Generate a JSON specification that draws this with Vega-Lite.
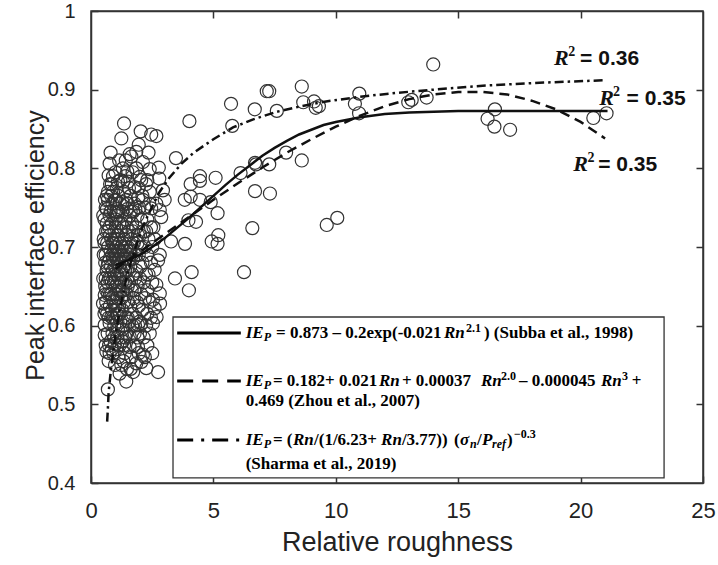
{
  "$schema": "https://vega.github.io/schema/vega-lite/v6.json",
  "width": 612,
  "height": 472,
  "autosize": {"type": "none"},
  "padding": {"left": 91, "top": 11, "right": 15, "bottom": 82},
  "background": "white",
  "config": {
    "view": {"stroke": "#333333", "strokeWidth": 1.5},
    "axis": {
      "grid": false,
      "domainColor": "#333333",
      "domainWidth": 1.5,
      "tickColor": "#333333",
      "tickWidth": 1.5,
      "tickSize": -7,
      "labelFont": "Liberation Sans",
      "labelColor": "#222222",
      "titleFont": "Liberation Sans",
      "titleFontWeight": "normal",
      "titleColor": "#222222"
    }
  },
  "datasets": {
    "points": [
      {"rn":4.02,"ie":0.860},{"rn":5.72,"ie":0.882},{"rn":7.18,"ie":0.898},{"rn":7.28,"ie":0.898},{"rn":8.61,"ie":0.904},{"rn":6.69,"ie":0.875},{"rn":7.59,"ie":0.873},{"rn":5.77,"ie":0.854},{"rn":8.67,"ie":0.884},{"rn":9.11,"ie":0.885},{"rn":9.18,"ie":0.877},{"rn":9.31,"ie":0.879},{"rn":10.96,"ie":0.895},{"rn":10.78,"ie":0.882},{"rn":10.95,"ie":0.870},{"rn":12.96,"ie":0.884},{"rn":13.10,"ie":0.887},{"rn":13.71,"ie":0.890},{"rn":13.98,"ie":0.932},{"rn":16.50,"ie":0.875},{"rn":16.20,"ie":0.863},{"rn":16.48,"ie":0.853},{"rn":17.12,"ie":0.849},{"rn":20.52,"ie":0.864},{"rn":21.06,"ie":0.870},
      {"rn":3.47,"ie":0.813},{"rn":4.45,"ie":0.790},{"rn":4.45,"ie":0.784},{"rn":4.07,"ie":0.780},{"rn":5.09,"ie":0.788},{"rn":6.11,"ie":0.794},{"rn":6.70,"ie":0.807},{"rn":6.74,"ie":0.805},{"rn":7.28,"ie":0.805},{"rn":7.97,"ie":0.820},{"rn":8.61,"ie":0.810},
      {"rn":3.83,"ie":0.760},{"rn":4.07,"ie":0.764},{"rn":4.45,"ie":0.760},{"rn":4.89,"ie":0.757},{"rn":6.70,"ie":0.771},{"rn":7.31,"ie":0.768},{"rn":5.17,"ie":0.743},{"rn":3.98,"ie":0.734},{"rn":4.29,"ie":0.732},{"rn":3.27,"ie":0.707},{"rn":3.84,"ie":0.704},{"rn":5.20,"ie":0.715},{"rn":4.93,"ie":0.707},{"rn":5.17,"ie":0.704},{"rn":6.59,"ie":0.724},{"rn":9.63,"ie":0.728},{"rn":10.06,"ie":0.737},{"rn":3.43,"ie":0.660},{"rn":4.11,"ie":0.668},{"rn":6.25,"ie":0.668},{"rn":4.00,"ie":0.645},
      {"rn":1.35,"ie":0.857},{"rn":1.24,"ie":0.838},{"rn":2.03,"ie":0.847},{"rn":2.46,"ie":0.843},{"rn":2.67,"ie":0.841},{"rn":0.80,"ie":0.820},{"rn":0.76,"ie":0.806},{"rn":1.58,"ie":0.818},{"rn":1.65,"ie":0.815},{"rn":1.85,"ie":0.821},{"rn":2.12,"ie":0.808},{"rn":2.40,"ie":0.799},{"rn":2.77,"ie":0.801},{"rn":1.48,"ie":0.796},{"rn":1.99,"ie":0.789},{"rn":0.72,"ie":0.791},{"rn":1.10,"ie":0.783},{"rn":1.31,"ie":0.783},{"rn":1.51,"ie":0.783},{"rn":1.78,"ie":0.776},{"rn":2.05,"ie":0.785},{"rn":0.69,"ie":0.770},{"rn":0.90,"ie":0.770},{"rn":2.94,"ie":0.772},{"rn":0.69,"ie":0.760},{"rn":1.02,"ie":0.760},{"rn":1.29,"ie":0.757},{"rn":1.92,"ie":0.762},{"rn":2.12,"ie":0.760},{"rn":2.67,"ie":0.755},{"rn":3.01,"ie":0.760},{"rn":2.46,"ie":0.749},{"rn":2.81,"ie":0.747},{"rn":0.65,"ie":0.748},{"rn":1.06,"ie":0.748},{"rn":1.48,"ie":0.748},{"rn":1.81,"ie":0.748},{"rn":2.79,"ie":0.787},
      {"rn":2.87,"ie":0.738},{"rn":2.81,"ie":0.690},{"rn":2.74,"ie":0.683},{"rn":2.60,"ie":0.671},{"rn":2.67,"ie":0.652},{"rn":2.81,"ie":0.641},{"rn":2.53,"ie":0.633},{"rn":2.60,"ie":0.622},{"rn":0.56,"ie":0.639},{"rn":0.49,"ie":0.628},{"rn":2.82,"ie":0.628},{"rn":2.68,"ie":0.611},
      {"rn":0.56,"ie":0.601},{"rn":0.76,"ie":0.603},{"rn":0.56,"ie":0.588},{"rn":0.63,"ie":0.567},{"rn":0.76,"ie":0.565},{"rn":1.92,"ie":0.601},{"rn":2.06,"ie":0.603},{"rn":2.53,"ie":0.603},{"rn":1.78,"ie":0.590},{"rn":1.58,"ie":0.586},{"rn":1.58,"ie":0.573},{"rn":1.92,"ie":0.573},{"rn":2.12,"ie":0.563},{"rn":1.65,"ie":0.560},{"rn":2.06,"ie":0.554},{"rn":2.26,"ie":0.546},{"rn":1.85,"ie":0.552},{"rn":1.72,"ie":0.541},{"rn":2.74,"ie":0.541},{"rn":1.17,"ie":0.539},{"rn":1.44,"ie":0.529},{"rn":0.69,"ie":0.519},{"rn":0.97,"ie":0.577},{"rn":1.17,"ie":0.575},{"rn":0.83,"ie":0.611},{"rn":1.10,"ie":0.613},
      {"rn":0.52,"ie":0.69},{"rn":0.55,"ie":0.705},{"rn":0.58,"ie":0.68},{"rn":0.6,"ie":0.66},{"rn":0.62,"ie":0.72},{"rn":0.55,"ie":0.735},{"rn":0.6,"ie":0.75},{"rn":0.65,"ie":0.765},{"rn":0.58,"ie":0.65},{"rn":0.62,"ie":0.645},{"rn":0.66,"ie":0.615},{"rn":0.6,"ie":0.575},{"rn":0.68,"ie":0.59},{"rn":0.7,"ie":0.70},{"rn":0.67,"ie":0.675},{"rn":0.64,"ie":0.73},{"rn":0.7,"ie":0.64},{"rn":0.72,"ie":0.555},
      {"rn":0.78,"ie":0.78},{"rn":0.82,"ie":0.765},{"rn":0.8,"ie":0.745},{"rn":0.85,"ie":0.73},{"rn":0.78,"ie":0.715},{"rn":0.88,"ie":0.705},{"rn":0.8,"ie":0.695},{"rn":0.9,"ie":0.685},{"rn":0.82,"ie":0.675},{"rn":0.95,"ie":0.665},{"rn":0.85,"ie":0.655},{"rn":0.78,"ie":0.64},{"rn":0.92,"ie":0.63},{"rn":0.86,"ie":0.62},{"rn":0.95,"ie":0.6},{"rn":0.88,"ie":0.59},{"rn":0.92,"ie":0.565},{"rn":0.98,"ie":0.55},{"rn":0.96,"ie":0.72},{"rn":0.93,"ie":0.745},{"rn":0.98,"ie":0.76},{"rn":0.9,"ie":0.79},{"rn":0.95,"ie":0.695},{"rn":0.99,"ie":0.675},{"rn":0.87,"ie":0.635},
      {"rn":1.05,"ie":0.775},{"rn":1.12,"ie":0.765},{"rn":1.08,"ie":0.74},{"rn":1.15,"ie":0.73},{"rn":1.02,"ie":0.725},{"rn":1.1,"ie":0.715},{"rn":1.18,"ie":0.705},{"rn":1.05,"ie":0.70},{"rn":1.12,"ie":0.695},{"rn":1.2,"ie":0.69},{"rn":1.03,"ie":0.685},{"rn":1.1,"ie":0.68},{"rn":1.17,"ie":0.675},{"rn":1.22,"ie":0.67},{"rn":1.06,"ie":0.665},{"rn":1.14,"ie":0.66},{"rn":1.02,"ie":0.65},{"rn":1.2,"ie":0.645},{"rn":1.08,"ie":0.635},{"rn":1.15,"ie":0.625},{"rn":1.05,"ie":0.615},{"rn":1.2,"ie":0.605},{"rn":1.1,"ie":0.595},{"rn":1.22,"ie":0.585},{"rn":1.12,"ie":0.56},{"rn":1.24,"ie":0.55},{"rn":1.18,"ie":0.755},{"rn":1.22,"ie":0.72},{"rn":1.04,"ie":0.745},
      {"rn":1.3,"ie":0.8},{"rn":1.35,"ie":0.77},{"rn":1.28,"ie":0.745},{"rn":1.4,"ie":0.735},{"rn":1.32,"ie":0.725},{"rn":1.45,"ie":0.715},{"rn":1.3,"ie":0.705},{"rn":1.38,"ie":0.695},{"rn":1.27,"ie":0.69},{"rn":1.42,"ie":0.685},{"rn":1.33,"ie":0.675},{"rn":1.48,"ie":0.67},{"rn":1.28,"ie":0.665},{"rn":1.4,"ie":0.655},{"rn":1.3,"ie":0.645},{"rn":1.45,"ie":0.64},{"rn":1.35,"ie":0.63},{"rn":1.28,"ie":0.62},{"rn":1.42,"ie":0.61},{"rn":1.33,"ie":0.6},{"rn":1.45,"ie":0.59},{"rn":1.3,"ie":0.58},{"rn":1.38,"ie":0.565},{"rn":1.32,"ie":0.555},{"rn":1.47,"ie":0.545},{"rn":1.44,"ie":0.76},{"rn":1.5,"ie":0.70},{"rn":1.46,"ie":0.725},
      {"rn":1.55,"ie":0.775},{"rn":1.62,"ie":0.765},{"rn":1.58,"ie":0.74},{"rn":1.68,"ie":0.73},{"rn":1.55,"ie":0.72},{"rn":1.65,"ie":0.71},{"rn":1.58,"ie":0.695},{"rn":1.72,"ie":0.685},{"rn":1.6,"ie":0.675},{"rn":1.7,"ie":0.665},{"rn":1.55,"ie":0.655},{"rn":1.66,"ie":0.645},{"rn":1.75,"ie":0.635},{"rn":1.6,"ie":0.625},{"rn":1.7,"ie":0.615},{"rn":1.55,"ie":0.605},{"rn":1.68,"ie":0.6},{"rn":1.75,"ie":0.575},{"rn":1.62,"ie":0.545},{"rn":1.78,"ie":0.755},{"rn":1.75,"ie":0.705},
      {"rn":1.85,"ie":0.8},{"rn":1.95,"ie":0.775},{"rn":1.9,"ie":0.74},{"rn":2.05,"ie":0.735},{"rn":1.85,"ie":0.725},{"rn":2.0,"ie":0.715},{"rn":2.15,"ie":0.72},{"rn":1.9,"ie":0.705},{"rn":2.05,"ie":0.70},{"rn":1.95,"ie":0.69},{"rn":2.1,"ie":0.68},{"rn":1.85,"ie":0.67},{"rn":2.0,"ie":0.66},{"rn":2.15,"ie":0.655},{"rn":1.9,"ie":0.65},{"rn":2.05,"ie":0.64},{"rn":2.2,"ie":0.635},{"rn":1.95,"ie":0.625},{"rn":2.1,"ie":0.62},{"rn":1.85,"ie":0.61},{"rn":2.0,"ie":0.59},{"rn":2.15,"ie":0.585},{"rn":2.2,"ie":0.75},{"rn":2.1,"ie":0.765},
      {"rn":2.3,"ie":0.785},{"rn":2.4,"ie":0.77},{"rn":2.3,"ie":0.735},{"rn":2.45,"ie":0.725},{"rn":2.35,"ie":0.71},{"rn":2.5,"ie":0.70},{"rn":2.3,"ie":0.69},{"rn":2.45,"ie":0.68},{"rn":2.35,"ie":0.665},{"rn":2.5,"ie":0.655},{"rn":2.3,"ie":0.645},{"rn":2.4,"ie":0.63},{"rn":2.3,"ie":0.615},{"rn":2.45,"ie":0.61},{"rn":2.4,"ie":0.59},{"rn":2.3,"ie":0.575},{"rn":2.5,"ie":0.565},{"rn":2.55,"ie":0.725},{"rn":2.6,"ie":0.71},{"rn":2.25,"ie":0.6},
      {"rn":0.75,"ie":0.725},{"rn":0.83,"ie":0.71},{"rn":0.87,"ie":0.69},{"rn":0.92,"ie":0.705},{"rn":0.97,"ie":0.71},{"rn":1.0,"ie":0.69},{"rn":1.07,"ie":0.71},{"rn":1.13,"ie":0.685},{"rn":1.16,"ie":0.695},{"rn":1.25,"ie":0.70},{"rn":1.23,"ie":0.68},{"rn":1.19,"ie":0.665},{"rn":1.26,"ie":0.655},{"rn":1.12,"ie":0.645},{"rn":1.0,"ie":0.64},{"rn":0.94,"ie":0.655},{"rn":0.89,"ie":0.67},{"rn":0.76,"ie":0.685},{"rn":0.73,"ie":0.66},{"rn":0.7,"ie":0.68},{"rn":0.8,"ie":0.66},{"rn":0.84,"ie":0.64},{"rn":0.77,"ie":0.625},{"rn":0.9,"ie":0.61},{"rn":1.0,"ie":0.625},{"rn":1.08,"ie":0.605},{"rn":1.16,"ie":0.615},{"rn":1.25,"ie":0.635},{"rn":1.36,"ie":0.64},{"rn":1.4,"ie":0.67},{"rn":1.35,"ie":0.69},{"rn":1.43,"ie":0.70},{"rn":1.36,"ie":0.71},{"rn":1.25,"ie":0.73},{"rn":1.13,"ie":0.745},{"rn":1.0,"ie":0.735},{"rn":0.88,"ie":0.755},{"rn":0.76,"ie":0.74},{"rn":0.7,"ie":0.72},{"rn":0.66,"ie":0.705},{"rn":0.6,"ie":0.69},{"rn":0.64,"ie":0.67},{"rn":0.68,"ie":0.655},{"rn":0.62,"ie":0.63},{"rn":0.72,"ie":0.61},{"rn":0.8,"ie":0.58},{"rn":0.74,"ie":0.575},{"rn":0.85,"ie":0.57},{"rn":0.95,"ie":0.585},{"rn":1.03,"ie":0.57},{"rn":1.08,"ie":0.585},{"rn":1.27,"ie":0.595},{"rn":1.35,"ie":0.575},{"rn":1.4,"ie":0.585},{"rn":1.5,"ie":0.61},{"rn":1.52,"ie":0.63},{"rn":1.5,"ie":0.65},{"rn":1.62,"ie":0.69},{"rn":1.55,"ie":0.685},{"rn":1.65,"ie":0.70},{"rn":1.7,"ie":0.72},{"rn":1.62,"ie":0.745},{"rn":1.5,"ie":0.755},{"rn":1.72,"ie":0.745},{"rn":1.85,"ie":0.69},{"rn":1.8,"ie":0.66},{"rn":1.78,"ie":0.645},{"rn":1.88,"ie":0.63},{"rn":1.8,"ie":0.6},{"rn":1.9,"ie":0.585},{"rn":1.98,"ie":0.605},{"rn":2.02,"ie":0.675},{"rn":1.92,"ie":0.715},{"rn":1.98,"ie":0.75},{"rn":2.25,"ie":0.665},{"rn":2.2,"ie":0.7},{"rn":2.25,"ie":0.72},{"rn":2.38,"ie":0.755},{"rn":2.2,"ie":0.56},{"rn":1.95,"ie":0.565},{"rn":1.2,"ie":0.785},{"rn":1.4,"ie":0.79},{"rn":1.0,"ie":0.795},{"rn":0.85,"ie":0.78},{"rn":1.15,"ie":0.81},{"rn":1.42,"ie":0.81},{"rn":1.7,"ie":0.795},{"rn":2.25,"ie":0.78},{"rn":2.35,"ie":0.82},{"rn":1.95,"ie":0.83},{"rn":0.6,"ie":0.62},{"rn":0.5,"ie":0.66},{"rn":0.52,"ie":0.71},{"rn":0.5,"ie":0.74},{"rn":0.57,"ie":0.76},{"rn":0.55,"ie":0.615}
    ],
    "curves": [
      {"model":"Subba","rn":1.0,"ie":0.677},{"model":"Subba","rn":1.5,"ie":0.683},{"model":"Subba","rn":2,"ie":0.690},{"model":"Subba","rn":2.5,"ie":0.700},{"model":"Subba","rn":3,"ie":0.711},{"model":"Subba","rn":3.5,"ie":0.724},{"model":"Subba","rn":4,"ie":0.737},{"model":"Subba","rn":4.5,"ie":0.751},{"model":"Subba","rn":5,"ie":0.765},{"model":"Subba","rn":5.5,"ie":0.779},{"model":"Subba","rn":6,"ie":0.792},{"model":"Subba","rn":6.5,"ie":0.804},{"model":"Subba","rn":7,"ie":0.816},{"model":"Subba","rn":7.5,"ie":0.826},{"model":"Subba","rn":8,"ie":0.835},{"model":"Subba","rn":8.5,"ie":0.843},{"model":"Subba","rn":9,"ie":0.849},{"model":"Subba","rn":9.5,"ie":0.855},{"model":"Subba","rn":10,"ie":0.859},{"model":"Subba","rn":11,"ie":0.865},{"model":"Subba","rn":12,"ie":0.869},{"model":"Subba","rn":13,"ie":0.871},{"model":"Subba","rn":14,"ie":0.872},{"model":"Subba","rn":15,"ie":0.873},{"model":"Subba","rn":17,"ie":0.873},{"model":"Subba","rn":19,"ie":0.873},{"model":"Subba","rn":21.1,"ie":0.873},
      {"model":"Zhou","rn":1,"ie":0.672},{"model":"Zhou","rn":2,"ie":0.694},{"model":"Zhou","rn":3,"ie":0.716},{"model":"Zhou","rn":4,"ie":0.738},{"model":"Zhou","rn":5,"ie":0.760},{"model":"Zhou","rn":6,"ie":0.781},{"model":"Zhou","rn":7,"ie":0.801},{"model":"Zhou","rn":8,"ie":0.820},{"model":"Zhou","rn":9,"ie":0.837},{"model":"Zhou","rn":10,"ie":0.853},{"model":"Zhou","rn":11,"ie":0.867},{"model":"Zhou","rn":12,"ie":0.879},{"model":"Zhou","rn":13,"ie":0.888},{"model":"Zhou","rn":14,"ie":0.894},{"model":"Zhou","rn":15,"ie":0.897},{"model":"Zhou","rn":16,"ie":0.897},{"model":"Zhou","rn":17,"ie":0.894},{"model":"Zhou","rn":18,"ie":0.886},{"model":"Zhou","rn":19,"ie":0.875},{"model":"Zhou","rn":20,"ie":0.859},{"model":"Zhou","rn":21,"ie":0.838},
      {"model":"Sharma","rn":0.66,"ie":0.478},{"model":"Sharma","rn":0.69,"ie":0.495},{"model":"Sharma","rn":0.72,"ie":0.515},{"model":"Sharma","rn":0.8,"ie":0.54},{"model":"Sharma","rn":0.9,"ie":0.565},{"model":"Sharma","rn":1.0,"ie":0.588},{"model":"Sharma","rn":1.2,"ie":0.625},{"model":"Sharma","rn":1.5,"ie":0.668},{"model":"Sharma","rn":1.8,"ie":0.697},{"model":"Sharma","rn":2.1,"ie":0.725},{"model":"Sharma","rn":2.4,"ie":0.745},{"model":"Sharma","rn":2.8,"ie":0.77},{"model":"Sharma","rn":3.2,"ie":0.788},{"model":"Sharma","rn":3.7,"ie":0.806},{"model":"Sharma","rn":4.2,"ie":0.82},{"model":"Sharma","rn":5,"ie":0.837},{"model":"Sharma","rn":5.8,"ie":0.852},{"model":"Sharma","rn":6.6,"ie":0.862},{"model":"Sharma","rn":7.6,"ie":0.872},{"model":"Sharma","rn":8.6,"ie":0.879},{"model":"Sharma","rn":9.6,"ie":0.885},{"model":"Sharma","rn":11,"ie":0.891},{"model":"Sharma","rn":12.5,"ie":0.896},{"model":"Sharma","rn":14,"ie":0.9},{"model":"Sharma","rn":16,"ie":0.905},{"model":"Sharma","rn":18.5,"ie":0.909},{"model":"Sharma","rn":21,"ie":0.912}
    ],
    "legendItalic": [
      {"rn":6.32,"ie":0.5906,"t":"IE"},{"rn":14.42,"ie":0.5906,"t":"Rn"},
      {"rn":6.32,"ie":0.5296,"t":"IE"},{"rn":11.76,"ie":0.5296,"t":"Rn"},{"rn":15.93,"ie":0.5296,"t":"Rn"},{"rn":20.83,"ie":0.5296,"t":"Rn"},
      {"rn":6.32,"ie":0.4546,"t":"IE"},{"rn":8.25,"ie":0.4546,"t":"Rn"},{"rn":11.85,"ie":0.4546,"t":"Rn"},{"rn":15.07,"ie":0.4546,"t":"σ"},{"rn":15.97,"ie":0.4546,"t":"P"}
    ],
    "legendBold": [
      {"rn":7.56,"ie":0.5906,"t":"= 0.873 – 0.2exp(-0.021"},{"rn":16.05,"ie":0.5906,"t":") (Subba et al., 1998)"},
      {"rn":7.43,"ie":0.5296,"t":"= 0.182+ 0.021"},{"rn":12.70,"ie":0.5296,"t":"+ 0.00037"},{"rn":17.48,"ie":0.5296,"t":"– 0.000045"},{"rn":22.09,"ie":0.5296,"t":"+"},
      {"rn":6.32,"ie":0.5042,"t":"0.469 (Zhou et al., 2007)"},
      {"rn":7.43,"ie":0.4546,"t":"= ("},{"rn":9.11,"ie":0.4546,"t":"/(1/6.23+"},{"rn":12.70,"ie":0.4546,"t":"/3.77))"},{"rn":14.83,"ie":0.4546,"t":"("},{"rn":15.77,"ie":0.4546,"t":"/"},{"rn":16.99,"ie":0.4546,"t":")"},
      {"rn":6.32,"ie":0.4241,"t":"(Sharma et al., 2019)"}
    ],
    "legendSub": [
      {"rn":7.06,"ie":0.5855,"t":"P"},{"rn":7.06,"ie":0.5245,"t":"P"},{"rn":7.06,"ie":0.4496,"t":"P"},{"rn":15.48,"ie":0.4496,"t":"n"},{"rn":16.38,"ie":0.4496,"t":"ref"}
    ],
    "legendSup": [
      {"rn":15.32,"ie":0.5970,"t":"2.1"},{"rn":16.75,"ie":0.5360,"t":"2.0"},{"rn":21.69,"ie":0.5360,"t":"3"},{"rn":17.28,"ie":0.4623,"t":"−0.3"}
    ],
    "r2R": [
      {"rn":18.91,"ie":0.9311,"t":"R"},{"rn":20.76,"ie":0.8803,"t":"R"},{"rn":19.70,"ie":0.7968,"t":"R"}
    ],
    "r2Sup": [
      {"rn":19.50,"ie":0.9426,"t":"2"},{"rn":21.32,"ie":0.8917,"t":"2"},{"rn":20.28,"ie":0.8083,"t":"2"}
    ],
    "r2Val": [
      {"rn":19.98,"ie":0.9311,"t":"= 0.36"},{"rn":21.88,"ie":0.8803,"t":"= 0.35"},{"rn":20.72,"ie":0.7968,"t":"= 0.35"}
    ]
  },
  "layer": [
    {
      "data": {"name": "points"},
      "mark": {"type": "point", "shape": "circle", "filled": false, "size": 170, "stroke": "#333333", "strokeWidth": 1.2, "opacity": 1},
      "encoding": {
        "x": {"field": "rn", "type": "quantitative", "scale": {"domain": [0, 25], "nice": false, "zero": false},
          "axis": {"orient": "bottom", "values": [0, 5, 10, 15, 20, 25], "labelFontSize": 22, "labelPadding": 24, "labelFlush": false,
            "title": "Relative roughness", "titleFontSize": 27, "titleY": 67, "titleBaseline": "alphabetic"}},
        "y": {"field": "ie", "type": "quantitative", "scale": {"domain": [0.4, 1], "nice": false, "zero": false},
          "axis": {"orient": "left", "values": [0.4, 0.5, 0.6, 0.7, 0.8, 0.9, 1], "format": "~g", "labelFontSize": 20, "labelPadding": 23,
            "title": "Peak interface efficiency", "titleFontSize": 25, "titleX": -48, "titleY": 234, "titleAngle": -90, "titleBaseline": "alphabetic", "titleAlign": "center"}}
      }
    },
    {
      "data": {"name": "curves"},
      "transform": [{"filter": "datum.model === 'Subba'"}],
      "mark": {"type": "line", "color": "#111111", "strokeWidth": 2.5},
      "encoding": {
        "x": {"field": "rn", "type": "quantitative", "axis": {"orient": "top", "values": [5, 10, 15, 20], "labels": false, "title": null}},
        "y": {"field": "ie", "type": "quantitative", "axis": {"orient": "right", "values": [0.5, 0.6, 0.7, 0.8, 0.9], "labels": false, "title": null}}
      }
    },
    {
      "data": {"name": "curves"},
      "transform": [{"filter": "datum.model === 'Zhou'"}],
      "mark": {"type": "line", "color": "#111111", "strokeWidth": 2.5, "strokeDash": [10, 6]},
      "encoding": {
        "x": {"field": "rn", "type": "quantitative", "axis": null},
        "y": {"field": "ie", "type": "quantitative", "axis": null}
      }
    },
    {
      "data": {"name": "curves"},
      "transform": [{"filter": "datum.model === 'Sharma'"}],
      "mark": {"type": "line", "color": "#111111", "strokeWidth": 2.5, "strokeDash": [9, 4, 2.5, 4]},
      "encoding": {
        "x": {"field": "rn", "type": "quantitative", "axis": null},
        "y": {"field": "ie", "type": "quantitative", "axis": null}
      }
    },
    {
      "data": {"values": [{"x1": 3.35, "x2": 23.41, "y1": 0.611, "y2": 0.4064}]},
      "mark": {"type": "rect", "fill": "white", "stroke": "#333333", "strokeWidth": 1.3},
      "encoding": {
        "x": {"field": "x1", "type": "quantitative", "axis": null},
        "x2": {"field": "x2"},
        "y": {"field": "y1", "type": "quantitative", "axis": null},
        "y2": {"field": "y2"}
      }
    },
    {
      "data": {"values": [{"rn": 3.52, "ie": 0.5906}, {"rn": 6.12, "ie": 0.5906}]},
      "mark": {"type": "line", "color": "#000000", "strokeWidth": 3},
      "encoding": {"x": {"field": "rn", "type": "quantitative", "axis": null}, "y": {"field": "ie", "type": "quantitative", "axis": null}}
    },
    {
      "data": {"values": [{"rn": 3.52, "ie": 0.5296}, {"rn": 6.12, "ie": 0.5296}]},
      "mark": {"type": "line", "color": "#000000", "strokeWidth": 3, "strokeDash": [16, 9]},
      "encoding": {"x": {"field": "rn", "type": "quantitative", "axis": null}, "y": {"field": "ie", "type": "quantitative", "axis": null}}
    },
    {
      "data": {"values": [{"rn": 3.52, "ie": 0.4546}, {"rn": 6.12, "ie": 0.4546}]},
      "mark": {"type": "line", "color": "#000000", "strokeWidth": 3, "strokeDash": [16, 8, 3, 8]},
      "encoding": {"x": {"field": "rn", "type": "quantitative", "axis": null}, "y": {"field": "ie", "type": "quantitative", "axis": null}}
    },
    {
      "data": {"name": "legendItalic"},
      "mark": {"type": "text", "align": "left", "baseline": "middle", "font": "Liberation Serif", "fontSize": 17, "fontWeight": "bold", "fontStyle": "italic", "color": "#000000"},
      "encoding": {"x": {"field": "rn", "type": "quantitative", "axis": null}, "y": {"field": "ie", "type": "quantitative", "axis": null}, "text": {"field": "t"}}
    },
    {
      "data": {"name": "legendBold"},
      "mark": {"type": "text", "align": "left", "baseline": "middle", "font": "Liberation Serif", "fontSize": 17, "fontWeight": "bold", "color": "#000000"},
      "encoding": {"x": {"field": "rn", "type": "quantitative", "axis": null}, "y": {"field": "ie", "type": "quantitative", "axis": null}, "text": {"field": "t"}}
    },
    {
      "data": {"name": "legendSub"},
      "mark": {"type": "text", "align": "left", "baseline": "middle", "font": "Liberation Serif", "fontSize": 12, "fontWeight": "bold", "fontStyle": "italic", "color": "#000000"},
      "encoding": {"x": {"field": "rn", "type": "quantitative", "axis": null}, "y": {"field": "ie", "type": "quantitative", "axis": null}, "text": {"field": "t"}}
    },
    {
      "data": {"name": "legendSup"},
      "mark": {"type": "text", "align": "left", "baseline": "middle", "font": "Liberation Serif", "fontSize": 12, "fontWeight": "bold", "color": "#000000"},
      "encoding": {"x": {"field": "rn", "type": "quantitative", "axis": null}, "y": {"field": "ie", "type": "quantitative", "axis": null}, "text": {"field": "t"}}
    },
    {
      "data": {"name": "r2R"},
      "mark": {"type": "text", "align": "left", "baseline": "alphabetic", "font": "Liberation Serif", "fontSize": 22, "fontWeight": "bold", "fontStyle": "italic", "color": "#111111"},
      "encoding": {"x": {"field": "rn", "type": "quantitative", "axis": null}, "y": {"field": "ie", "type": "quantitative", "axis": null}, "text": {"field": "t"}}
    },
    {
      "data": {"name": "r2Sup"},
      "mark": {"type": "text", "align": "left", "baseline": "alphabetic", "font": "Liberation Serif", "fontSize": 14, "fontWeight": "bold", "color": "#111111"},
      "encoding": {"x": {"field": "rn", "type": "quantitative", "axis": null}, "y": {"field": "ie", "type": "quantitative", "axis": null}, "text": {"field": "t"}}
    },
    {
      "data": {"name": "r2Val"},
      "mark": {"type": "text", "align": "left", "baseline": "alphabetic", "font": "Liberation Sans", "fontSize": 21, "fontWeight": "bold", "color": "#111111"},
      "encoding": {"x": {"field": "rn", "type": "quantitative", "axis": null}, "y": {"field": "ie", "type": "quantitative", "axis": null}, "text": {"field": "t"}}
    }
  ],
  "resolve": {"axis": {"x": "independent", "y": "independent"}}
}
